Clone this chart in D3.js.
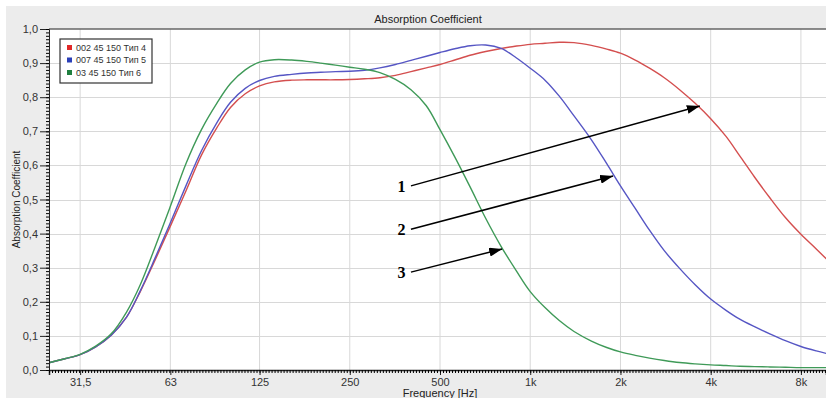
<!DOCTYPE html>
<html>
<head>
<meta charset="utf-8">
<script src="https://cdnjs.cloudflare.com/ajax/libs/d3/7.8.5/d3.min.js"></script>
<style>
  body { margin: 0; background: #fff; }
  text { font-family: "Liberation Sans", Arial, sans-serif; }
</style>
</head>
<body>
<script>
// frequencies [Hz], read at 1/6 octave steps
var freqs = [25, 28, 31.5, 35.5, 40, 45, 50, 56, 63, 71, 80, 90, 100, 112, 125, 140, 160, 180, 200, 224,
    250, 280, 315, 355, 400, 450, 500, 560, 630, 710, 800, 900, 1000, 1120, 1250, 1400, 1600, 1800, 2000, 2240,
    2500, 2800, 3150, 3550, 4000, 4500, 5000, 5600, 6300, 7100, 8000, 9000, 10000];

var tip4 = [0.022, 0.033, 0.045, 0.068, 0.102, 0.155, 0.23, 0.322, 0.422, 0.525, 0.63, 0.71, 0.77, 0.81, 0.833, 0.845, 0.85, 0.851, 0.851, 0.851,
    0.852, 0.854, 0.857, 0.864, 0.875, 0.886, 0.896, 0.909, 0.923, 0.934, 0.943, 0.95, 0.955, 0.958, 0.961, 0.96, 0.952, 0.941, 0.929, 0.909,
    0.885, 0.857, 0.822, 0.782, 0.737, 0.685, 0.628, 0.566, 0.505, 0.447, 0.398, 0.355, 0.315];

var tip5 = [0.022, 0.033, 0.045, 0.068, 0.102, 0.155, 0.232, 0.328, 0.432, 0.54, 0.643, 0.725, 0.785, 0.826, 0.849, 0.861, 0.867, 0.871, 0.873, 0.875,
    0.876, 0.879, 0.886, 0.896, 0.908, 0.92, 0.931, 0.942, 0.951, 0.953, 0.943, 0.915, 0.885, 0.85, 0.803, 0.745, 0.675, 0.605, 0.54, 0.474,
    0.41, 0.35, 0.298, 0.25, 0.208, 0.175, 0.149, 0.127, 0.106, 0.086, 0.069, 0.056, 0.046];

var tip6 = [0.022, 0.033, 0.046, 0.07, 0.106, 0.17, 0.25, 0.36, 0.48, 0.605, 0.705, 0.782, 0.84, 0.88, 0.903, 0.91, 0.909, 0.905, 0.9, 0.894,
    0.888, 0.882, 0.872, 0.852, 0.822, 0.775, 0.705, 0.625, 0.537, 0.445, 0.362, 0.29, 0.23, 0.183, 0.145, 0.113, 0.085, 0.066, 0.053, 0.043,
    0.035, 0.028, 0.022, 0.018, 0.015, 0.013, 0.011, 0.01, 0.009, 0.008, 0.007, 0.007, 0.007];

var seriesNames = ["002 45 150 Тип 4", "007 45 150 Тип 5", "03 45 150 Тип 6"];
var seriesColors = ["#d44f4f", "#5656c4", "#3f9a58"];
var legendColors = ["#e02828", "#2a3fb8", "#1f7f3f"];

var xTickValues = [31.5, 63, 125, 250, 500, 1000, 2000, 4000, 8000];
var xTickLabels = ["31,5", "63", "125", "250", "500", "1k", "2k", "4k", "8k"];
var yTickValues = [0, 0.1, 0.2, 0.3, 0.4, 0.5, 0.6, 0.7, 0.8, 0.9, 1.0];

// annotation arrows: label, start (f, v), tip (f, v)
var arrowLabels = ["1", "2", "3"];
var arrowStartF = [400, 400, 400];
var arrowStartV = [0.54, 0.413, 0.287];
var arrowEndF = [3680, 1890, 806];
var arrowEndV = [0.774, 0.569, 0.355];
var labelF = 372;

var width = 826, height = 398;
var margin = {left: 49, right: 0, top: 29, bottom: 28};

var x = d3.scaleLog()
    .domain([24.8, 9700])
    .range([margin.left, width]);

var y = d3.scaleLinear()
    .domain([0, 1])
    .range([height - margin.bottom, margin.top]);

var svg = d3.select("body").append("svg").attr("width", width).attr("height", height);

svg.append("rect").attr("width", width).attr("height", height).style("fill", "#fff");
svg.append("rect").attr("x", 6).attr("y", 6).attr("width", width - 6).attr("height", height - 6).style("fill", "#ececec");
svg.append("rect")
    .attr("x", margin.left).attr("y", margin.top)
    .attr("width", width - margin.left).attr("height", y(0) - margin.top)
    .style("fill", "#fff");

svg.append("defs").append("clipPath").attr("id", "plot")
    .append("rect")
    .attr("x", margin.left).attr("y", margin.top)
    .attr("width", width - margin.left).attr("height", y(0) - margin.top);

// grid
svg.append("g").selectAll("line").data(xTickValues).enter().append("line")
    .attr("x1", function (d) { return x(d); }).attr("x2", function (d) { return x(d); })
    .attr("y1", margin.top).attr("y2", y(0))
    .style("stroke", "#d8d8d8").style("stroke-width", 1);
svg.append("g").selectAll("line").data(yTickValues.slice(1, 10)).enter().append("line")
    .attr("x1", margin.left).attr("x2", width)
    .attr("y1", function (d) { return Math.round(y(d)) + 0.5; }).attr("y2", function (d) { return Math.round(y(d)) + 0.5; })
    .style("stroke", "#d8d8d8").style("stroke-width", 1);

// curves
var line = d3.line()
    .x(function (d) { return x(d[0]); })
    .y(function (d) { return y(d[1]); })
    .curve(d3.curveCatmullRom.alpha(0.5));

var allSeries = [tip4, tip5, tip6];
var curves = svg.append("g").attr("clip-path", "url(#plot)");
allSeries.forEach(function (vals, i) {
    curves.append("path")
        .datum(freqs.map(function (f, j) { return [f, vals[j]]; }))
        .attr("d", line)
        .style("fill", "none")
        .style("stroke", seriesColors[i])
        .style("stroke-width", 1.4);
});

// top border
svg.append("line").attr("x1", margin.left).attr("x2", width).attr("y1", margin.top).attr("y2", margin.top)
    .style("stroke", "#666").style("stroke-width", 1.5);

// y axis
var yMinor = d3.range(0, 101).map(function (d) { return d / 100; });
var yAxis = d3.axisLeft(y).tickValues(yTickValues).tickSize(9).tickPadding(2)
    .tickFormat(function (d) { return d3.format(".1f")(d).replace(".", ","); });
var yMinorAxis = d3.axisLeft(y).tickValues(yMinor).tickSize(3).tickFormat("");
var yg = svg.append("g").attr("class", "y axis").attr("transform", "translate(" + margin.left + ",0)").call(yAxis);
svg.append("g").attr("transform", "translate(" + margin.left + ",0)").call(yMinorAxis).select(".domain").remove();
yg.selectAll("text").style("font-size", "11px").style("fill", "#333");
yg.selectAll("line, path").style("stroke", "#222");

// x axis
var xMinor = d3.range(0, 270).map(function (k) { return 24.8 * Math.pow(2, k / 30); }).filter(function (f) { return f <= 9700; });
var xAxis = d3.axisBottom(x).tickValues(xTickValues).tickSize(5).tickPadding(3)
    .tickFormat(function (d, i) { return xTickLabels[i]; });
var xMinorAxis = d3.axisBottom(x).tickValues(xMinor).tickSize(3).tickFormat("");
var xg = svg.append("g").attr("class", "x axis").attr("transform", "translate(0," + y(0) + ")").call(xAxis);
svg.append("g").attr("transform", "translate(0," + y(0) + ")").call(xMinorAxis).select(".domain").remove();
xg.selectAll("text").style("font-size", "11px").style("fill", "#333");
xg.selectAll("line, path").style("stroke", "#222");
xg.select(".domain").style("stroke-width", 1.5);

// titles
svg.append("text").attr("x", 428).attr("y", 23).attr("text-anchor", "middle")
    .style("font-size", "11px").style("fill", "#222").text("Absorption Coefficient");
svg.append("text").attr("x", 440).attr("y", 397).attr("text-anchor", "middle")
    .style("font-size", "11px").style("fill", "#222").text("Frequency [Hz]");
svg.append("text").attr("transform", "translate(20," + y(0.5) + ") rotate(270)").attr("text-anchor", "middle")
    .style("font-size", "10px").style("fill", "#222").text("Absorption Coefficient");

// legend
var legend = svg.append("g").attr("transform", "translate(60,39)");
legend.append("rect").attr("width", 92).attr("height", 44).style("fill", "#fff").style("stroke", "#333").style("stroke-width", 1.2);
legend.selectAll("rect.key").data(seriesNames).enter().append("rect")
    .attr("class", "key")
    .attr("x", 7).attr("y", function (d, i) { return 6 + i * 12.5; })
    .attr("width", 5).attr("height", 5)
    .style("fill", function (d, i) { return legendColors[i]; });
legend.selectAll("text").data(seriesNames).enter().append("text")
    .attr("x", 16).attr("y", function (d, i) { return 11.5 + i * 12.5; })
    .style("font-size", "9px").style("fill", "#333")
    .text(function (d) { return d; });

// arrows
svg.select("defs").append("marker")
    .attr("id", "head").attr("viewBox", "0 0 13 9").attr("refX", 13).attr("refY", 4.5)
    .attr("markerWidth", 13).attr("markerHeight", 9).attr("markerUnits", "userSpaceOnUse").attr("orient", "auto")
    .append("path").attr("d", "M0,0L13,4.5L0,9Z").style("fill", "#000");

svg.append("g").selectAll("line").data(arrowLabels).enter().append("line")
    .attr("x1", function (d, i) { return x(arrowStartF[i]); })
    .attr("y1", function (d, i) { return y(arrowStartV[i]); })
    .attr("x2", function (d, i) { return x(arrowEndF[i]); })
    .attr("y2", function (d, i) { return y(arrowEndV[i]); })
    .style("stroke", "#000").style("stroke-width", 1.5)
    .attr("marker-end", "url(#head)");

svg.append("g").selectAll("text").data(arrowLabels).enter().append("text")
    .attr("x", x(labelF))
    .attr("y", function (d, i) { return y(arrowStartV[i]) + 6; })
    .attr("text-anchor", "middle")
    .style("font-family", "'Liberation Serif', 'Times New Roman', serif")
    .style("font-weight", "bold").style("font-size", "16px").style("fill", "#000")
    .text(function (d) { return d; });
</script>
</body>
</html>
